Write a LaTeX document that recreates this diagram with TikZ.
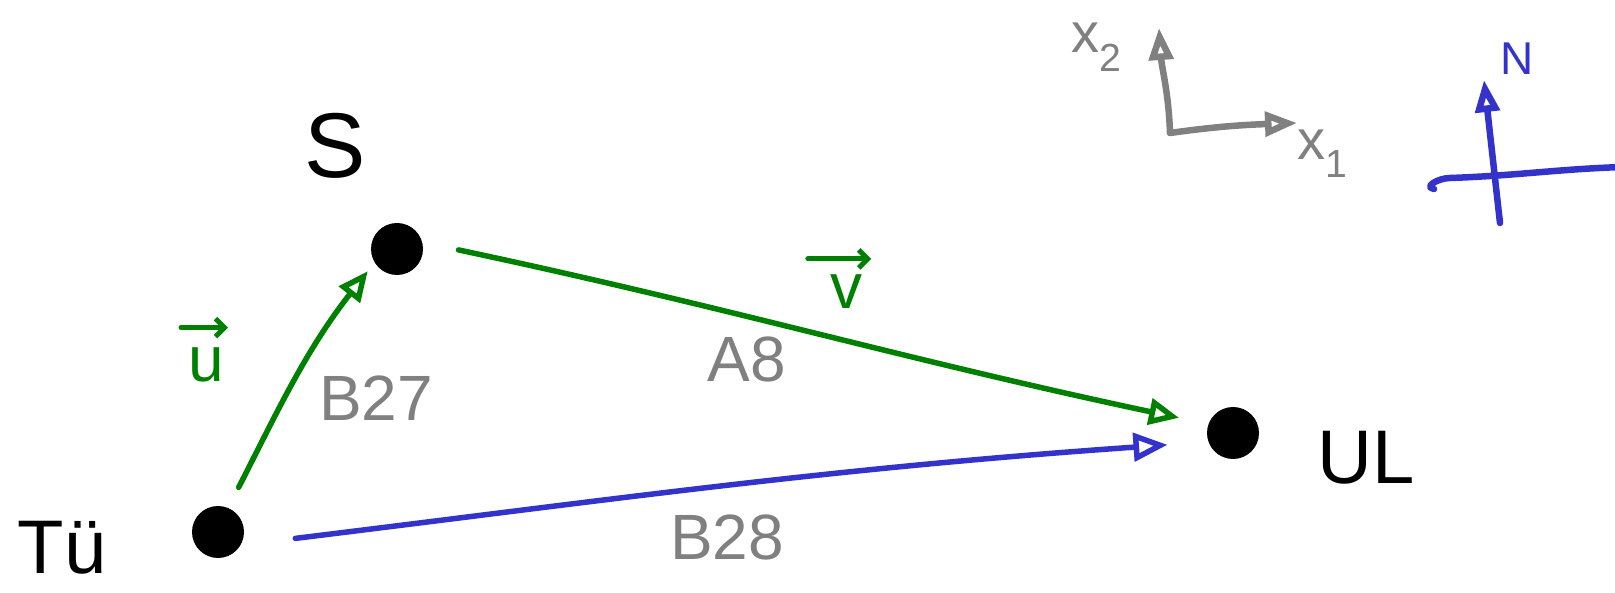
\documentclass[tikz,border=0pt]{standalone}
\usepackage{fontspec}
\setmainfont{Liberation Sans}
\usetikzlibrary{arrows.meta}
\definecolor{pgreen}{RGB}{0,128,0}
\definecolor{pblue}{RGB}{51,51,204}
\definecolor{pgray}{RGB}{128,128,128}
\tikzset{
  dot/.style={circle, fill=black, minimum size=52pt, inner sep=0pt},
  lbl/.style={inner sep=0pt, font=\fontsize{#1}{#1}\selectfont},
  garrow/.style={draw=pgreen, line width=5.5pt, line cap=round, line join=round,
    -{Triangle[open, length=30pt, width=26pt]}},
  barrow/.style={draw=pblue, line width=5.5pt, line cap=round, line join=round,
    -{Triangle[open, length=34pt, width=28pt]}},
  gax/.style={draw=pgray, line width=6.5pt, line cap=round, line join=round,
    -{Triangle[open, length=32pt, width=24pt]}},
  bax/.style={draw=pblue, line width=6.5pt, line cap=round, line join=round},
  vecbar/.style={draw=pgreen, line width=5pt, line cap=round, line join=round,
    -{Straight Barb[length=9pt, width=18pt]}},
}
\begin{document}
\begin{tikzpicture}[x=1pt, y=1pt]
\useasboundingbox (0,0) rectangle (1615,592);
% points
\node[dot] (tu) at (218,60) {};
\node[dot] (s) at (397,343) {};
\node[dot] (ul) at (1233,159) {};
% point labels
\node[lbl=76] (tulab) at (62,44) {Tü};
\node[lbl=92] (slab) at (335,446) {S};
\node[lbl=76] (ullab) at (1366,134) {UL};
% connectors
\draw[garrow, shorten <=23pt, shorten >=11pt] (tu.67) to[out=63, in=232] (s.211);
\draw[garrow, shorten <=37pt, shorten >=30pt] (s.15) to[out=-12, in=168] (ul.160);
\draw[barrow, shorten <=55pt, shorten >=41pt] (tu.-30) to[out=7, in=184] (ul.200);
% connector labels (vectors)
\node[lbl=64, text=pgreen] (ulab) at (206,227) {u};
\node[lbl=64, text=pgreen] (vlab) at (846,300) {v};
\draw[vecbar] ([xshift=-7pt, yshift=20pt]ulab.north west) -- ([xshift=4pt, yshift=20pt]ulab.north east);
\draw[vecbar] ([xshift=-22pt, yshift=16pt]vlab.north west) -- ([xshift=9pt, yshift=16pt]vlab.north east);
\node[lbl=64, text=pgray] (b27) at (376,194) {B27};
\node[lbl=64, text=pgray] (a8) at (747,233) {A8};
\node[lbl=64, text=pgray] (b28) at (727,55) {B28};
% coordinate axes
\coordinate (O) at (1170,459);
\coordinate (x2end) at (1159,564);
\coordinate (x1end) at (1297,469);
\draw[gax] (O) to[out=92, in=-86] (x2end);
\draw[gax] (O) to[out=8, in=182] (x1end);
\node[lbl=56, text=pgray] (x2lab) at (1097,545) {x\textsubscript{2}};
\node[lbl=56, text=pgray] (x1lab) at (1323,438) {x\textsubscript{1}};
% north sign
\coordinate (nb) at (1500,369);
\coordinate (nt) at (1484,512);
\coordinate (hs) at (1434,403);
\coordinate (hm) at (1450,414);
\coordinate (he) at (1622,425);
\draw[bax, -{Triangle[open, length=32pt, width=24pt]}] (nb) -- (nt);
\draw[bax] (hs) to[out=170, in=180, looseness=1.5] (hm) to[out=2, in=182] (he);
\node[lbl=46, text=pblue] (nlab) at (1517,533) {N};
\end{tikzpicture}
\end{document}
